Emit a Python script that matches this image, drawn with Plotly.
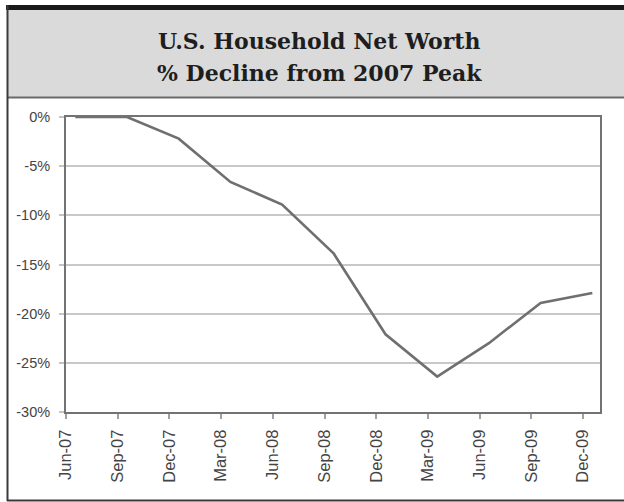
import plotly.graph_objects as go

# Quarterly household net worth, % decline from the 2007 peak
quarters = ["Jun-07", "Sep-07", "Dec-07", "Mar-08", "Jun-08", "Sep-08",
            "Dec-08", "Mar-09", "Jun-09", "Sep-09", "Dec-09"]
decline_pct = [0.0, 0.0, -2.2, -6.6, -8.9, -13.9, -22.1, -26.4, -23.0, -18.9, -17.9]
y_ticks = [0, -5, -10, -15, -20, -25, -30]
y_tick_labels = ["0%", "-5%", "-10%", "-15%", "-20%", "-25%", "-30%"]

title_lines = ["U.S. Household Net Worth", "% Decline from 2007 Peak"]

W, H = 624, 502
ML, MR, MT, MB = 66, 24, 117, 90
PW, PH = W - ML - MR, H - MT - MB

# each point sits a little after its quarter's tick mark
POINT_OFFSET = 0.18
tick_pos = list(range(len(quarters)))
x_pos = [i + POINT_OFFSET for i in tick_pos]


def px_x(x):
    return (x - ML) / PW


def px_y(y):
    return (H - MB - y) / PH


fig = go.Figure()
fig.add_trace(go.Scatter(
    x=x_pos, y=decline_pct, mode="lines",
    line=dict(color="#6f6f6f", width=2.6),
    hoverinfo="skip", showlegend=False,
))

shapes = [
    # grey title band
    dict(type="rect", xref="paper", yref="paper",
         x0=px_x(7), x1=px_x(630), y0=px_y(97), y1=px_y(9),
         fillcolor="#dadada", line=dict(width=0), layer="below"),
    # dark rule under the band
    dict(type="line", xref="paper", yref="paper",
         x0=px_x(7), x1=px_x(630), y0=px_y(97.5), y1=px_y(97.5),
         line=dict(color="#6a6a6a", width=2)),
    # heavy black rule on top
    dict(type="line", xref="paper", yref="paper",
         x0=px_x(6), x1=px_x(630), y0=px_y(7.5), y1=px_y(7.5),
         line=dict(color="#1a1a1a", width=5)),
    # outer frame: left and bottom
    dict(type="line", xref="paper", yref="paper",
         x0=px_x(7.5), x1=px_x(7.5), y0=px_y(5), y1=px_y(501),
         line=dict(color="#3a3a3a", width=2)),
    dict(type="line", xref="paper", yref="paper",
         x0=px_x(7), x1=px_x(630), y0=px_y(500.5), y1=px_y(500.5),
         line=dict(color="#3a3a3a", width=2)),
]

annotations = [
    dict(xref="paper", yref="paper", x=px_x(319), y=px_y(y),
         text=f"<b>{t}</b>", showarrow=False, xanchor="center", yanchor="middle",
         font=dict(family="DejaVu Serif", size=22, color="#1e1e1e"))
    for t, y in zip(title_lines, [41, 73])
]

fig.update_layout(
    width=W, height=H,
    margin=dict(l=ML, r=MR, t=MT, b=MB, pad=0),
    paper_bgcolor="white", plot_bgcolor="white",
    font=dict(family="Liberation Sans, Arial, sans-serif", size=14.5, color="#444444"),
    shapes=shapes, annotations=annotations,
    xaxis=dict(
        range=[0, PW / 51.7], tickmode="array", tickvals=tick_pos, ticktext=quarters,
        tickangle=-90, ticks="outside", ticklen=5, tickwidth=1.5, tickcolor="#a0a0a0",
        tickfont=dict(size=16.5),
        showgrid=False, zeroline=False, showline=True, mirror=True,
        linecolor="#737373", linewidth=2, ticklabelstandoff=4, fixedrange=True,
    ),
    yaxis=dict(
        range=[-30, 0], tickmode="array", tickvals=y_ticks, ticktext=y_tick_labels,
        ticks="outside", ticklen=5, tickwidth=1.5, tickcolor="#c4c4c4",
        showgrid=True, gridcolor="#c8c8c8", gridwidth=1.6, zeroline=False,
        showline=True, mirror=True, linecolor="#737373", linewidth=2,
        ticklabelstandoff=6, fixedrange=True,
    ),
)

fig.write_html("out.html")
